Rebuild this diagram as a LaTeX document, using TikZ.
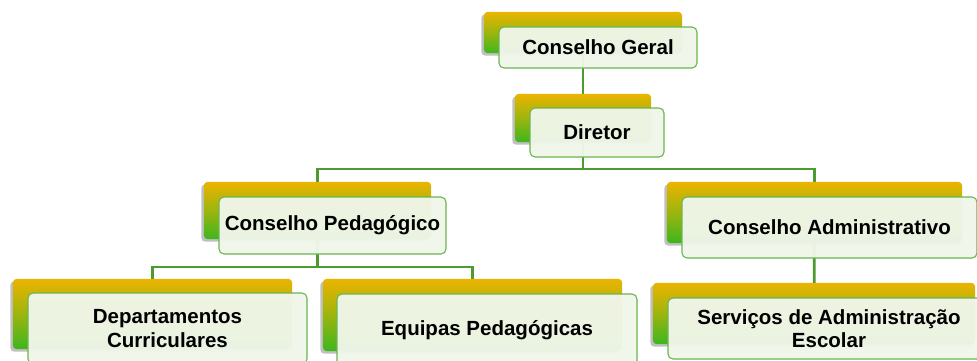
\documentclass[tikz,border=0pt]{standalone}
\usepackage{fontspec}
\setmainfont{Liberation Sans}
\usetikzlibrary{shadows,positioning}
\definecolor{gold}{HTML}{EBB400}
\definecolor{leaf}{HTML}{3DB61E}
\definecolor{frontfill}{HTML}{F1F6EA}
\definecolor{frontline}{HTML}{6CB550}
\definecolor{wire}{HTML}{4B9B2F}
\tikzset{
  backbox/.style={rounded corners=4pt, top color=gold, bottom color=leaf, middle color=gold!55!leaf, draw=none,
    drop shadow={shadow xshift=-2.5pt, shadow yshift=-2.5pt, opacity=0.35, fill=black!70},
    inner sep=0pt, anchor=center},
  frontbox/.style={rounded corners=5pt, fill=frontfill, fill opacity=0.96, text opacity=1,
    draw=frontline, line width=1.1pt, inner sep=0pt, anchor=center, align=center,
    font=\fontsize{20.5}{23.5}\selectfont\bfseries},
  wireline/.style={draw=wire, line width=2.7pt},
  anchorbox/.style={inner sep=0pt},
}
\begin{document}
\begin{tikzpicture}[x=1pt,y=-1pt]
\useasboundingbox (0,0) rectangle (977,360);
\clip (0,0) rectangle (977,360);
\fill[white] (0,0) rectangle (977,360);
% back boxes (positions, for connectors)
\node[anchorbox, minimum width=198pt, minimum height=41pt] (cgB) at (583,32.5) {};
\node[anchorbox, minimum width=136pt, minimum height=48pt] (dirB) at (583,118) {};
\node[anchorbox, minimum width=227pt, minimum height=57pt] (cpB) at (317.5,210.5) {};
\node[anchorbox, minimum width=295pt, minimum height=61pt] (caB) at (814.5,212.5) {};
\node[anchorbox, minimum width=279pt, minimum height=70pt] (depB) at (152.5,314) {};
\node[anchorbox, minimum width=299pt, minimum height=72pt] (eqB) at (472.5,315) {};
\node[anchorbox, minimum width=322pt, minimum height=61pt] (svB) at (814,313.5) {};
\coordinate (j1) at (583,169);
\coordinate (j2) at (317.5,267);
% connectors
\path[wireline] (cgB.center) -- (dirB.center);
\path[wireline] (dirB.center) -- (j1);
\path[wireline] (cpB.center) |- (j1) -| (caB.center);
\path[wireline] (cpB.center) -- (j2);
\path[wireline] (depB.center) |- (j2) -| (eqB.center);
\path[wireline] (caB.center) -- (svB.center);
% back gradient boxes
\foreach \n in {cgB,dirB,cpB,caB,depB,eqB,svB}{
  \path[backbox] (\n.south west) rectangle (\n.north east);
}
% front boxes
\node[frontbox, minimum width=198pt, minimum height=41pt] (cgF) at (598,47.5) {Conselho Geral};
\node[frontbox, minimum width=134pt, minimum height=49pt] (dirF) at (597,132.5) {Diretor};
\node[frontbox, minimum width=227pt, minimum height=57pt] (cpF) at (332.5,225.5) {Conselho Pedagógico};
\node[frontbox, minimum width=295pt, minimum height=61pt] (caF) at (829.5,227.5) {Conselho Administrativo};
\node[frontbox, minimum width=279pt, minimum height=71pt] (depF) at (167.5,328.5) {Departamentos\\Curriculares};
\node[frontbox, minimum width=300pt, minimum height=72pt] (eqF) at (487,330) {Equipas Pedagógicas};
\node[frontbox, minimum width=322pt, minimum height=61pt] (svF) at (829,328.5) {Serviços de Administração\\Escolar};
\end{tikzpicture}
\end{document}
